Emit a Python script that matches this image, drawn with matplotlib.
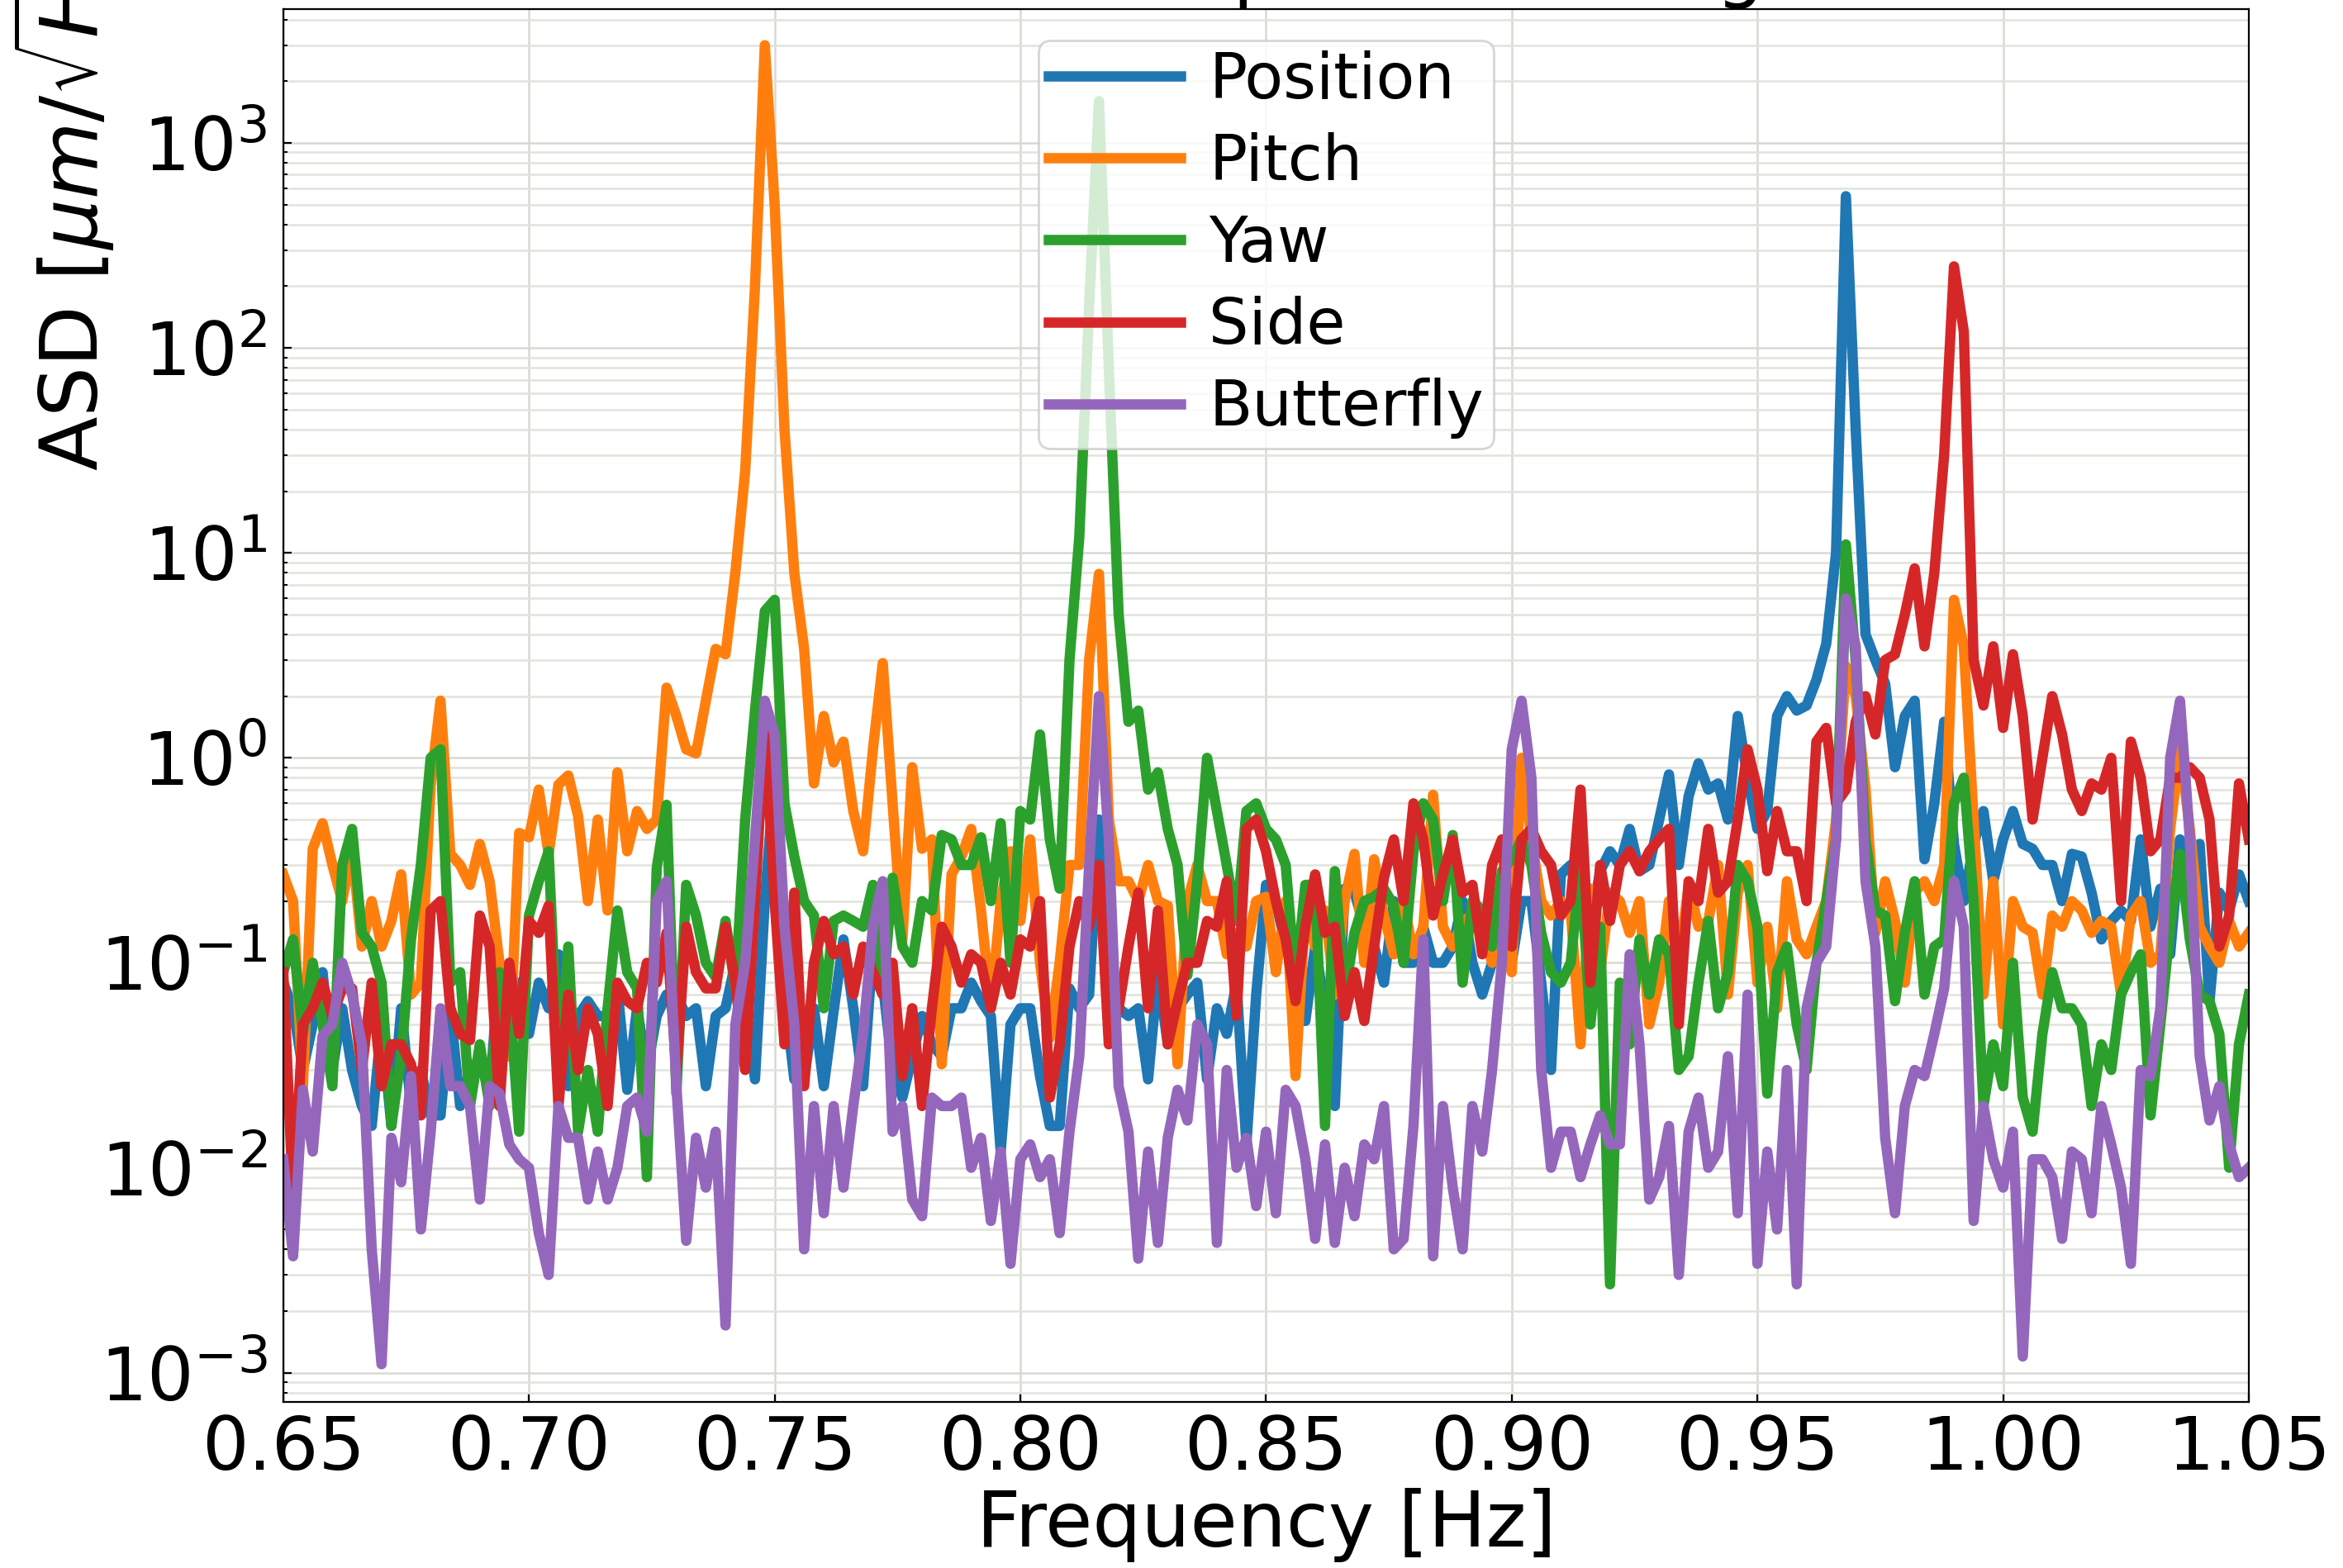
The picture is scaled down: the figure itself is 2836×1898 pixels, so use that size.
import numpy as np
import matplotlib
matplotlib.use("Agg")
import matplotlib.pyplot as plt
from matplotlib.ticker import LogLocator, FixedLocator, FixedFormatter, NullFormatter

# ---------------- data (ASD) ----------------
freq = np.round(np.linspace(0.65, 1.05, 201), 3)   # Hz, 0.002 Hz bins

position = [
    0.08, 0.06, 0.03, 0.05, 0.09, 0.03, 0.06, 0.03, 0.02, 0.016,
    0.05, 0.016, 0.06, 0.02, 0.03, 0.018, 0.018, 0.06, 0.02, 0.03,
    0.034, 0.023, 0.1, 0.035, 0.08, 0.045, 0.08, 0.06, 0.11, 0.025,
    0.055, 0.065, 0.055, 0.055, 0.075, 0.024, 0.06, 0.03, 0.055, 0.07,
    0.07, 0.055, 0.06, 0.025, 0.055, 0.06, 0.1, 0.065, 0.027, 0.2,
    0.85, 0.07, 0.027, 0.027, 0.06, 0.025, 0.058, 0.13, 0.06, 0.025,
    0.12, 0.08, 0.03, 0.022, 0.035, 0.055, 0.04, 0.035, 0.06, 0.06,
    0.08, 0.065, 0.055, 0.012, 0.05, 0.06, 0.06, 0.028, 0.016, 0.016,
    0.075, 0.06, 0.07, 0.5, 0.08, 0.06, 0.055, 0.06, 0.027, 0.09,
    0.04, 0.06, 0.07, 0.08, 0.027, 0.06, 0.045, 0.08, 0.013, 0.07,
    0.24, 0.2, 0.12, 0.1, 0.052, 0.12, 0.06, 0.02, 0.23, 0.22,
    0.15, 0.12, 0.08, 0.2, 0.1, 0.1, 0.15, 0.1, 0.1, 0.12,
    0.2, 0.1, 0.07, 0.1, 0.25, 0.1, 0.2, 0.2, 0.08, 0.03,
    0.27, 0.3, 0.27, 0.15, 0.28, 0.35, 0.3, 0.45, 0.28, 0.3,
    0.5, 0.83, 0.3, 0.65, 0.94, 0.7, 0.75, 0.5, 1.6, 0.8,
    0.45, 0.55, 1.6, 2.0, 1.7, 1.8, 2.4, 3.6, 10, 550,
    40, 4, 3.0, 2.3, 0.9, 1.6, 1.9, 0.32, 0.6, 1.5,
    0.38, 0.2, 0.38, 0.55, 0.25, 0.4, 0.55, 0.38, 0.36, 0.3,
    0.3, 0.2, 0.34, 0.33, 0.22, 0.13, 0.16, 0.18, 0.16, 0.4,
    0.15, 0.23, 0.11, 0.4, 0.2, 0.38, 0.065, 0.22, 0.18, 0.27,
    0.2]

pitch = [
    0.27, 0.2, 0.025, 0.36, 0.48, 0.3, 0.2, 0.36, 0.12, 0.2,
    0.12, 0.16, 0.27, 0.07, 0.08, 0.75, 1.9, 0.34, 0.3, 0.24,
    0.38, 0.25, 0.1, 0.035, 0.43, 0.41, 0.7, 0.34, 0.74, 0.82,
    0.52, 0.2, 0.5, 0.18, 0.85, 0.35, 0.55, 0.45, 0.5, 2.2,
    1.6, 1.1, 1.05, 1.9, 3.4, 3.2, 8, 25, 200, 3000,
    500, 40, 8, 3.4, 0.75, 1.6, 0.95, 1.2, 0.55, 0.35,
    1.1, 2.9, 0.6, 0.13, 0.9, 0.36, 0.4, 0.032, 0.27, 0.33,
    0.45, 0.18, 0.06, 0.2, 0.35, 0.16, 0.4, 0.1, 0.043, 0.1,
    0.3, 0.3, 3, 7.9, 0.5, 0.25, 0.25, 0.2, 0.3, 0.2,
    0.19, 0.032, 0.2, 0.3, 0.2, 0.2, 0.11, 0.14, 0.12, 0.2,
    0.21, 0.09, 0.2, 0.028, 0.18, 0.12, 0.18, 0.07, 0.2, 0.34,
    0.1, 0.32, 0.17, 0.11, 0.2, 0.11, 0.15, 0.66, 0.15, 0.12,
    0.16, 0.17, 0.15, 0.1, 0.14, 0.09, 1.0, 0.4, 0.2, 0.17,
    0.2, 0.18, 0.04, 0.23, 0.09, 0.22, 0.2, 0.14, 0.2, 0.05,
    0.08, 0.2, 0.1, 0.24, 0.15, 0.16, 0.3, 0.07, 0.22, 0.3,
    0.08, 0.15, 0.06, 0.25, 0.13, 0.11, 0.15, 0.2, 0.5, 2.8,
    2.0, 0.7, 0.14, 0.25, 0.16, 0.08, 0.22, 0.25, 0.2, 0.3,
    5.9, 3.5, 0.5, 0.07, 0.25, 0.05, 0.2, 0.15, 0.14, 0.07,
    0.17, 0.15, 0.2, 0.18, 0.14, 0.16, 0.15, 0.07, 0.17, 0.2,
    0.1, 0.11, 0.45, 1.1, 0.45, 0.15, 0.12, 0.1, 0.16, 0.12,
    0.14]

yaw = [
    0.09, 0.13, 0.045, 0.1, 0.05, 0.025, 0.3, 0.45, 0.14, 0.12,
    0.08, 0.016, 0.035, 0.13, 0.3, 1.0, 1.1, 0.08, 0.09, 0.02,
    0.04, 0.02, 0.09, 0.07, 0.015, 0.17, 0.25, 0.35, 0.03, 0.12,
    0.015, 0.03, 0.015, 0.06, 0.18, 0.09, 0.075, 0.009, 0.29, 0.59,
    0.023, 0.24, 0.17, 0.1, 0.085, 0.16, 0.075, 0.5, 1.7, 5.2,
    5.9, 0.6, 0.33, 0.2, 0.17, 0.06, 0.16, 0.17, 0.16, 0.15,
    0.24, 0.07, 0.26, 0.12, 0.1, 0.2, 0.18, 0.42, 0.4, 0.3,
    0.3, 0.41, 0.2, 0.48, 0.1, 0.55, 0.5, 1.3, 0.4, 0.23,
    3.0, 12, 160, 1600, 80, 5, 1.5, 1.7, 0.7, 0.85,
    0.45, 0.3, 0.087, 0.25, 1.0, 0.55, 0.3, 0.16, 0.55, 0.6,
    0.45, 0.4, 0.3, 0.08, 0.24, 0.24, 0.016, 0.28, 0.07, 0.14,
    0.2, 0.21, 0.23, 0.19, 0.1, 0.35, 0.6, 0.5, 0.2, 0.42,
    0.08, 0.2, 0.18, 0.12, 0.28, 0.32, 0.4, 0.3, 0.14, 0.09,
    0.08, 0.1, 0.3, 0.05, 0.15, 0.0027, 0.08, 0.04, 0.13, 0.07,
    0.13, 0.11, 0.03, 0.035, 0.08, 0.16, 0.06, 0.09, 0.3, 0.25,
    0.15, 0.023, 0.09, 0.12, 0.05, 0.03, 0.1, 0.2, 0.4, 11,
    3, 0.4, 0.18, 0.17, 0.065, 0.14, 0.25, 0.07, 0.12, 0.13,
    0.6, 0.8, 0.2, 0.02, 0.04, 0.025, 0.1, 0.022, 0.015, 0.045,
    0.09, 0.06, 0.06, 0.05, 0.02, 0.04, 0.03, 0.07, 0.09, 0.11,
    0.018, 0.05, 0.15, 0.34, 0.13, 0.07, 0.065, 0.045, 0.01, 0.04,
    0.07]

side = [
    0.09, 0.007, 0.05, 0.06, 0.08, 0.055, 0.075, 0.075, 0.03, 0.08,
    0.025, 0.04, 0.04, 0.032, 0.018, 0.18, 0.2, 0.06, 0.045, 0.042,
    0.17, 0.12, 0.02, 0.1, 0.045, 0.16, 0.14, 0.19, 0.02, 0.07,
    0.03, 0.06, 0.045, 0.02, 0.08, 0.065, 0.06, 0.1, 0.08, 0.14,
    0.03, 0.15, 0.09, 0.075, 0.075, 0.15, 0.08, 0.03, 0.2, 1.5,
    0.2, 0.04, 0.22, 0.025, 0.1, 0.16, 0.11, 0.12, 0.07, 0.12,
    0.09, 0.07, 0.1, 0.028, 0.06, 0.02, 0.06, 0.15, 0.12, 0.08,
    0.11, 0.1, 0.06, 0.1, 0.07, 0.13, 0.12, 0.2, 0.022, 0.04,
    0.12, 0.2, 0.15, 0.3, 0.04, 0.06, 0.12, 0.22, 0.06, 0.18,
    0.04, 0.065, 0.1, 0.1, 0.16, 0.15, 0.25, 0.055, 0.45, 0.5,
    0.35, 0.2, 0.13, 0.065, 0.15, 0.27, 0.14, 0.15, 0.055, 0.09,
    0.052, 0.12, 0.26, 0.4, 0.2, 0.6, 0.4, 0.17, 0.27, 0.4,
    0.22, 0.24, 0.11, 0.3, 0.4, 0.12, 0.4, 0.45, 0.35, 0.3,
    0.17, 0.2, 0.7, 0.08, 0.3, 0.16, 0.3, 0.35, 0.28, 0.35,
    0.4, 0.45, 0.05, 0.25, 0.2, 0.45, 0.22, 0.25, 0.5, 1.1,
    0.7, 0.28, 0.55, 0.35, 0.35, 0.2, 1.2, 1.4, 0.6, 0.7,
    1.5, 2.0, 1.3, 3.0, 3.2, 5.0, 8.4, 3.5, 8, 30,
    250, 120, 3, 1.8, 3.5, 1.4, 3.2, 1.6, 0.5, 1.0,
    2.0, 1.3, 0.7, 0.55, 0.75, 0.7, 1.0, 0.2, 1.2, 0.8,
    0.35, 0.4, 0.8, 0.8, 0.9, 0.8, 0.5, 0.12, 0.17, 0.75,
    0.4]

butterfly = [
    0.011, 0.0037, 0.024, 0.012, 0.044, 0.05, 0.1, 0.07, 0.04, 0.004,
    0.0011, 0.014, 0.0085, 0.028, 0.005, 0.015, 0.06, 0.025, 0.025, 0.02,
    0.007, 0.025, 0.023, 0.013, 0.011, 0.01, 0.0048, 0.003, 0.02, 0.014,
    0.014, 0.007, 0.012, 0.007, 0.01, 0.02, 0.022, 0.015, 0.2, 0.25,
    0.025, 0.0044, 0.014, 0.008, 0.015, 0.0017, 0.05, 0.1, 0.4, 1.9,
    1.3, 0.15, 0.05, 0.004, 0.02, 0.006, 0.02, 0.008, 0.02, 0.045,
    0.15, 0.25, 0.015, 0.02, 0.007, 0.0058, 0.022, 0.02, 0.02, 0.022,
    0.01, 0.014, 0.0055, 0.012, 0.0034, 0.011, 0.013, 0.009, 0.011, 0.0048,
    0.015, 0.035, 0.3, 2.0, 0.4, 0.025, 0.015, 0.0036, 0.012, 0.0043,
    0.014, 0.024, 0.017, 0.05, 0.04, 0.0043, 0.03, 0.01, 0.014, 0.0065,
    0.015, 0.006, 0.024, 0.02, 0.011, 0.0045, 0.013, 0.0043, 0.01, 0.0058,
    0.013, 0.011, 0.02, 0.004, 0.0045, 0.016, 0.13, 0.0037, 0.02, 0.008,
    0.004, 0.02, 0.012, 0.03, 0.1, 1.1, 1.9, 0.8, 0.03, 0.01,
    0.015, 0.015, 0.009, 0.013, 0.018, 0.013, 0.013, 0.11, 0.04, 0.007,
    0.009, 0.016, 0.003, 0.015, 0.022, 0.01, 0.012, 0.035, 0.006, 0.07,
    0.0034, 0.012, 0.005, 0.03, 0.0027, 0.06, 0.1, 0.12, 0.4, 6.0,
    3.5, 0.25, 0.12, 0.014, 0.006, 0.02, 0.03, 0.028, 0.045, 0.075,
    0.25, 0.15, 0.0055, 0.02, 0.011, 0.008, 0.015, 0.0012, 0.011, 0.011,
    0.009, 0.0045, 0.012, 0.011, 0.006, 0.02, 0.013, 0.008, 0.0034, 0.03,
    0.028, 0.06, 1.0, 1.9, 0.4, 0.035, 0.017, 0.025, 0.013, 0.009,
    0.01]

series_names = ["Position", "Pitch", "Yaw", "Side", "Butterfly"]
series_values = [position, pitch, yaw, side, butterfly]
series_colors = ["#1f77b4", "#ff7f0e", "#2ca02c", "#d62728", "#9467bd"]

x_ticks = [0.65, 0.70, 0.75, 0.80, 0.85, 0.90, 0.95, 1.00, 1.05]
x_tick_labels = ["0.65", "0.70", "0.75", "0.80", "0.85", "0.90", "0.95", "1.00", "1.05"]

title_text = "Raw Noise Spectra at long"
x_label = "Frequency [Hz]"
y_label = r"ASD [$\mu m/\sqrt{Hz}$]"

# ---------------- figure ----------------
plt.rcParams["font.family"] = ["DejaVu Sans"]
DPI = 200
fig = plt.figure(figsize=(2836 / DPI, 1898 / DPI), dpi=DPI)
ax = fig.add_axes([0.1209, 0.1059, 0.8389, 0.8883])

for name, vals, col in zip(series_names, series_values, series_colors):
    ax.plot(freq, vals, color=col, lw=4.5, label=name)

ax.set_yscale("log")
ax.set_xlim(0.65, 1.05)
ax.set_ylim(7.2e-4, 4500)

ax.xaxis.set_major_locator(FixedLocator(x_ticks))
ax.xaxis.set_major_formatter(FixedFormatter(x_tick_labels))
ax.yaxis.set_major_locator(LogLocator(base=10, numticks=30))
ax.yaxis.set_minor_locator(LogLocator(base=10, subs=np.arange(2, 10), numticks=200))
ax.yaxis.set_minor_formatter(NullFormatter())

ax.tick_params(axis="both", which="major", direction="in", length=3.6, width=0.8,
               labelsize=32)
ax.tick_params(axis="x", which="major", pad=5)
ax.tick_params(axis="y", which="major", pad=7)
ax.tick_params(axis="both", which="minor", direction="in", length=1.8, width=0.7)

ax.grid(True, which="major", color="#d9d9d2", lw=0.9)
ax.grid(True, which="minor", axis="y", color="#e3e3dc", lw=0.9)
ax.set_axisbelow(True)

ax.set_xlabel(x_label, fontsize=33.5, labelpad=1)
ax.set_ylabel(y_label, fontsize=34.5)
ax.yaxis.set_label_coords(-0.085, 0.873)
ax.set_title(title_text, fontsize=33, pad=6)

leg = ax.legend(loc="upper center", fontsize=27.5, handlelength=2.1,
                borderpad=0.15, labelspacing=0.33, handletextpad=0.45)

fig.savefig("out.png", dpi=DPI)
